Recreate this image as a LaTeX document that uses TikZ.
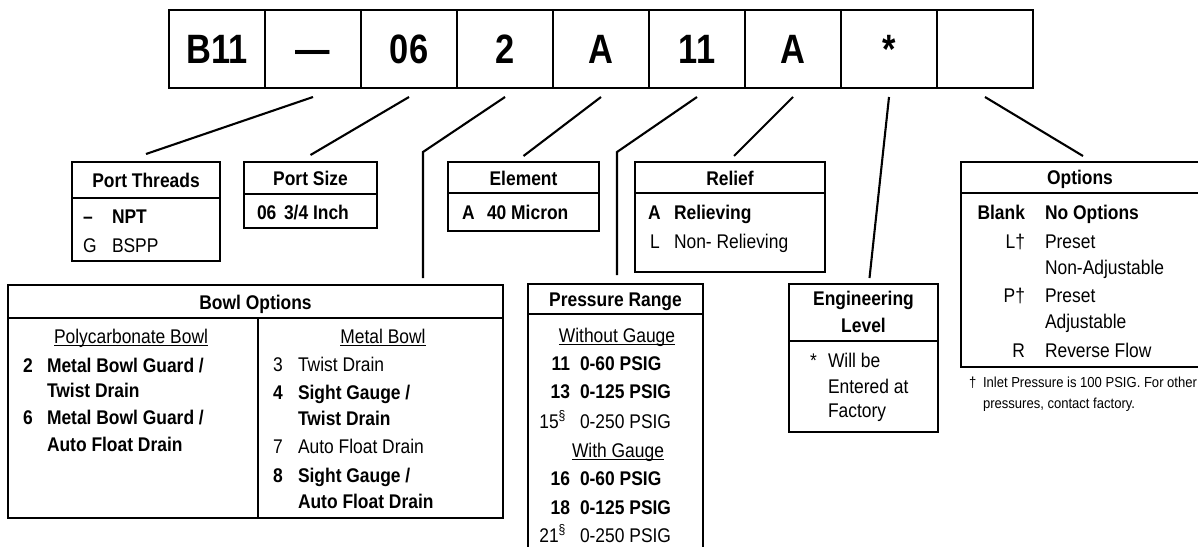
\documentclass[tikz,border=0pt]{standalone}
\usepackage{fontspec}
\setmainfont{Liberation Sans}[FakeStretch=0.88]
\newfontfamily\bigfont{Liberation Sans}[FakeStretch=0.84]
\newfontfamily\notefamily{Liberation Sans}[FakeStretch=0.9]
\newcommand\bodyfont{\fontsize{19.8}{22}\selectfont}
\newcommand\notefont{\notefamily\fontsize{14.5}{17}\selectfont}
\newcommand\myul[1]{\setbox0\hbox{#1}\rlap{\rule[-2.6pt]{\wd0}{1.1pt}}\box0}
\tikzset{
  frame/.style={draw, line width=2.3pt, inner sep=0pt, outer sep=0pt},
  codebox/.style={frame, minimum width=96pt, minimum height=78pt,
    font=\bigfont\bfseries\fontsize{41}{42}\selectfont, text height=29.4pt, text depth=0pt},
  lead/.style={line width=2.1pt},
  divider/.style={line width=2.3pt},
  r/.style={inner sep=0pt, outer sep=0pt, anchor=base west, font=\bodyfont},
  b/.style={r, font=\bodyfont\bfseries},
  rc/.style={r, anchor=base},
  bc/.style={b, anchor=base},
  re/.style={r, anchor=base east},
  be/.style={b, anchor=base east},
  nt/.style={r, font=\notefont},
}
\begin{document}
\begin{tikzpicture}[x=1pt, y=-1pt]
\useasboundingbox (0,0) rectangle (1198,546);
% code boxes
\node[codebox] (b1) at (217,49) {B11};
\node[codebox] (b2) at (313,49) {—};
\node[codebox] (b3) at (409,49) {06};
\node[codebox] (b4) at (505,49) {2};
\node[codebox] (b5) at (601,49) {A};
\node[codebox] (b6) at (697,49) {11};
\node[codebox] (b7) at (793,49) {A};
\node[codebox] (b8) at (889,49) {*};
\node[codebox] (b9) at (985,49) {};
% tables
\node[frame, minimum width=148pt, minimum height=99pt] (pthreads) at (146,211.5) {};
\node[frame, minimum width=133pt, minimum height=66pt] (psize) at (310.5,195) {};
\node[frame, minimum width=151pt, minimum height=69pt] (element) at (523.5,196.5) {};
\node[frame, minimum width=190pt, minimum height=110pt] (relief) at (730,217) {};
\node[frame, minimum width=244pt, minimum height=205pt] (options) at (1083,264.5) {};
\node[frame, minimum width=495pt, minimum height=233pt] (bowl) at (255.5,401.5) {};
\node[frame, minimum width=175pt, minimum height=268pt] (pressure) at (615.5,418) {};
\node[frame, minimum width=149pt, minimum height=148pt] (eng) at (863.5,358) {};
% dividers
\coordinate (colsplit) at (258,318);
\draw[divider] (pthreads.west |- 0,198) -- (pthreads.east |- 0,198);
\draw[divider] (psize.west |- 0,194) -- (psize.east |- 0,194);
\draw[divider] (element.west |- 0,193) -- (element.east |- 0,193);
\draw[divider] (relief.west |- 0,193) -- (relief.east |- 0,193);
\draw[divider] (options.west |- 0,193) -- (options.east |- 0,193);
\draw[divider] (bowl.west |- colsplit) -- (bowl.east |- colsplit);
\draw[divider] (colsplit) -- (colsplit |- bowl.south);
\draw[divider] (pressure.west |- 0,314) -- (pressure.east |- 0,314);
\draw[divider] (eng.west |- 0,341) -- (eng.east |- 0,341);
% leaders
\coordinate (bowlbend) at (423,152);
\coordinate (presbend) at (617,152);
\coordinate (optend) at (1083,156);
\draw[lead] ([yshift=-9pt]b2.south) -- ([yshift=8pt]pthreads.north);
\draw[lead] ([yshift=-9pt]b3.south) -- ([yshift=7pt]psize.north);
\draw[lead] ([yshift=-9pt]b4.south) -- (bowlbend) -- ([yshift=7pt]bowlbend |- bowl.north);
\draw[lead] ([yshift=-9pt]b5.south) -- ([yshift=6pt]element.north);
\draw[lead] ([yshift=-9pt]b6.south) -- (presbend) -- ([yshift=9pt]presbend |- pressure.north);
\draw[lead] ([yshift=-9pt]b7.south) -- ([xshift=4pt,yshift=6pt]relief.north);
\draw[lead] ([yshift=-9pt]b8.south) -- ([xshift=6pt,yshift=6pt]eng.north);
\draw[lead] ([yshift=-9pt]b9.south) -- (optend);
% Port Threads
\node[bc] (t1) at (146,187) {Port Threads};
\node[b] (t2) at (83,223) {–};
\node[b] (t3) at (112,223) {NPT};
\node[r] (t4) at (83,252) {G};
\node[r] (t5) at (112,252) {BSPP};
% Port Size
\node[bc] (t6) at (310.5,185) {Port Size};
\node[b] (t7) at (257,219) {06};
\node[b] (t8) at (284,219) {3/4 Inch};
% Element
\node[bc] (t9) at (523.5,185) {Element};
\node[b] (t10) at (462,219) {A};
\node[b] (t11) at (487,219) {40 Micron};
% Relief
\node[bc] (t12) at (730,185) {Relief};
\node[b] (t13) at (648,219) {A};
\node[b] (t14) at (674,219) {Relieving};
\node[r] (t15) at (650,248) {L};
\node[r] (t16) at (674,248) {Non- Relieving};
% Options
\node[bc] (t17) at (1080,184) {Options};
\node[be] (t18) at (1025,219) {Blank};
\node[b] (t19) at (1045,219) {No Options};
\node[re] (t20) at (1025,248) {L†};
\node[r] (t21) at (1045,248) {Preset};
\node[r] (t22) at (1045,274) {Non-Adjustable};
\node[re] (t23) at (1025,302) {P†};
\node[r] (t24) at (1045,302) {Preset};
\node[r] (t25) at (1045,328) {Adjustable};
\node[re] (t26) at (1025,357) {R};
\node[r] (t27) at (1045,357) {Reverse Flow};
\node[nt] (t28) at (969,387) {†};
\node[nt] (t29) at (983,387) {Inlet Pressure is 100 PSIG. For other};
\node[nt] (t30) at (983,408) {pressures, contact factory.};
% Bowl Options
\node[bc] (t31) at (255.5,309) {Bowl Options};
\node[rc] (t32) at (131,343) {\myul{Polycarbonate Bowl}};
\node[rc] (t33) at (383,343) {\myul{Metal Bowl}};
\node[b] (t34) at (23,372) {2};
\node[b] (t35) at (47,372) {Metal Bowl Guard /};
\node[b] (t36) at (47,397) {Twist Drain};
\node[b] (t37) at (23,424) {6};
\node[b] (t38) at (47,424) {Metal Bowl Guard /};
\node[b] (t39) at (47,451) {Auto Float Drain};
\node[r] (t40) at (273,371) {3};
\node[r] (t41) at (298,371) {Twist Drain};
\node[b] (t42) at (273,399) {4};
\node[b] (t43) at (298,399) {Sight Gauge /};
\node[b] (t44) at (298,425) {Twist Drain};
\node[r] (t45) at (273,453) {7};
\node[r] (t46) at (298,453) {Auto Float Drain};
\node[b] (t47) at (273,482) {8};
\node[b] (t48) at (298,482) {Sight Gauge /};
\node[b] (t49) at (298,508) {Auto Float Drain};
% Pressure Range
\node[bc] (t50) at (615.5,306) {Pressure Range};
\node[rc] (t51) at (617,342) {\myul{Without Gauge}};
\node[be] (t52) at (570,370) {11};
\node[b] (t53) at (580,370) {0-60 PSIG};
\node[be] (t54) at (570,398) {13};
\node[b] (t55) at (580,398) {0-125 PSIG};
\node[re] (t56) at (566,428) {15\textsuperscript{§}};
\node[r] (t57) at (580,428) {0-250 PSIG};
\node[rc] (t58) at (618,457) {\myul{With Gauge}};
\node[be] (t59) at (570,485) {16};
\node[b] (t60) at (580,485) {0-60 PSIG};
\node[be] (t61) at (570,514) {18};
\node[b] (t62) at (580,514) {0-125 PSIG};
\node[re] (t63) at (566,542) {21\textsuperscript{§}};
\node[r] (t64) at (580,542) {0-250 PSIG};
% Engineering Level
\node[bc] (t65) at (863.5,305) {Engineering};
\node[bc] (t66) at (863.5,332) {Level};
\node[r] (t67) at (810,367) {*};
\node[r] (t68) at (828,367) {Will be};
\node[r] (t69) at (828,393) {Entered at};
\node[r] (t70) at (828,417) {Factory};
\end{tikzpicture}
\end{document}
